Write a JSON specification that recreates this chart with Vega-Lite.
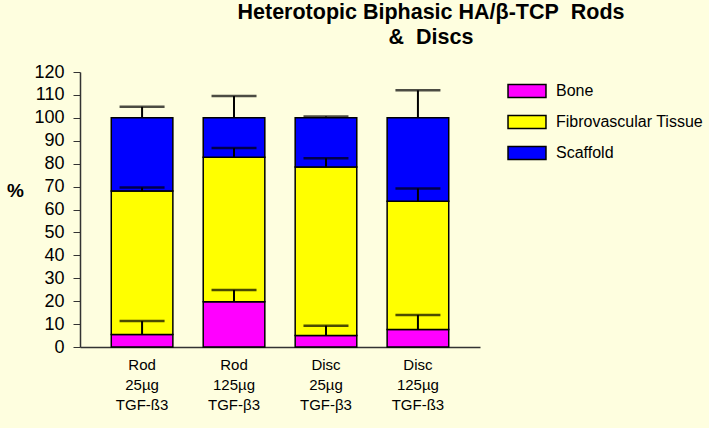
{
  "$schema": "https://vega.github.io/schema/vega-lite/v6.json",
  "autosize": {"type": "none"},
  "padding": {"left": 80, "top": 72, "right": 229, "bottom": 81},
  "width": 400,
  "height": 275,
  "background": "#FEFEDF",
  "title": {
    "text": ["Heterotopic Biphasic HA/β-TCP\u00a0 Rods", "&\u00a0 Discs"],
    "font": "Liberation Sans",
    "fontSize": 21.5,
    "fontWeight": "bold",
    "color": "black",
    "anchor": "middle",
    "dx": 151,
    "offset": 15,
    "lineHeight": 25
  },
  "config": {
    "view": {"stroke": null},
    "font": "Liberation Sans",
    "axisY": {
      "titleAngle": 0,
      "titleFont": "Liberation Sans",
      "titleFontSize": 19,
      "titleFontWeight": "bold",
      "titleColor": "black",
      "titleX": -65,
      "titleY": 118,
      "titleAlign": "center",
      "titleBaseline": "middle",
      "tickCount": 13,
      "labelOverlap": false,
      "grid": false,
      "labelFont": "Liberation Sans",
      "labelFontSize": 18,
      "labelColor": "black",
      "labelPadding": 9,
      "tickSize": 7,
      "tickColor": "#333333",
      "domainColor": "#333333",
      "domainWidth": 1.5
    }
  },
  "data": {
    "values": [
      {"group": "Rod|25µg|TGF-ß3", "tissue": "Bone", "low": 0, "high": 5.5, "err": 11.3},
      {"group": "Rod|25µg|TGF-ß3", "tissue": "Fibrovascular Tissue", "low": 5.5, "high": 68.1, "err": 69.6},
      {"group": "Rod|25µg|TGF-ß3", "tissue": "Scaffold", "low": 68.1, "high": 100, "err": 104.8},
      {"group": "Rod|125µg|TGF-β3", "tissue": "Bone", "low": 0, "high": 19.7, "err": 24.9},
      {"group": "Rod|125µg|TGF-β3", "tissue": "Fibrovascular Tissue", "low": 19.7, "high": 82.8, "err": 86.8},
      {"group": "Rod|125µg|TGF-β3", "tissue": "Scaffold", "low": 82.8, "high": 100, "err": 109.5},
      {"group": "Disc|25µg|TGF-β3", "tissue": "Bone", "low": 0, "high": 5.0, "err": 9.3},
      {"group": "Disc|25µg|TGF-β3", "tissue": "Fibrovascular Tissue", "low": 5.0, "high": 78.5, "err": 82.4},
      {"group": "Disc|25µg|TGF-β3", "tissue": "Scaffold", "low": 78.5, "high": 100, "err": 100.6},
      {"group": "Disc|125µg|TGF-ß3", "tissue": "Bone", "low": 0, "high": 7.6, "err": 14.0},
      {"group": "Disc|125µg|TGF-ß3", "tissue": "Fibrovascular Tissue", "low": 7.6, "high": 63.6, "err": 69.2},
      {"group": "Disc|125µg|TGF-ß3", "tissue": "Scaffold", "low": 63.6, "high": 100, "err": 112.0}
    ]
  },
  "encoding": {
    "x": {
      "field": "group",
      "type": "nominal",
      "sort": null,
      "scale": {"paddingInner": 0.33, "paddingOuter": 0.34},
      "axis": {
        "title": null,
        "labelAngle": 0,
        "labelExpr": "split(datum.label, '|')",
        "labelFont": "Liberation Sans",
        "labelFontSize": 15,
        "labelColor": "black",
        "labelLineHeight": 20,
        "labelPadding": 10,
        "ticks": false,
        "domainColor": "#333333",
        "domainWidth": 1.5
      }
    }
  },
  "layer": [
    {
      "mark": {"type": "bar", "stroke": "black", "strokeWidth": 1.5},
      "encoding": {
        "y": {
          "field": "low",
          "type": "quantitative",
          "scale": {"domain": [0, 120], "nice": false},
          "axis": {"title": "%"}
        },
        "y2": {"field": "high"},
        "color": {
          "field": "tissue",
          "type": "nominal",
          "scale": {
            "domain": ["Bone", "Fibrovascular Tissue", "Scaffold"],
            "range": ["#FF00FF", "#FFFF00", "#0000FF"]
          },
          "legend": {
            "title": null,
            "orient": "none",
            "legendX": 439,
            "legendY": 11,
            "symbolType": "M-2.92,-1L2.92,-1L2.92,1L-2.92,1Z",
            "symbolSize": 169,
            "symbolStrokeColor": "black",
            "symbolStrokeWidth": 1.5,
            "labelFont": "Liberation Sans",
            "labelFontSize": 16,
            "labelColor": "black",
            "labelOffset": 21,
            "rowPadding": 11
          }
        }
      }
    },
    {
      "mark": {"type": "rule", "color": "black", "strokeWidth": 2},
      "encoding": {
        "y": {"field": "high", "type": "quantitative", "axis": {"title": "%"}},
        "y2": {"field": "err"}
      }
    },
    {
      "mark": {"type": "tick", "color": "black", "thickness": 2.5, "size": 45, "orient": "horizontal"},
      "encoding": {
        "y": {"field": "err", "type": "quantitative", "axis": {"title": "%"}}
      }
    }
  ]
}
